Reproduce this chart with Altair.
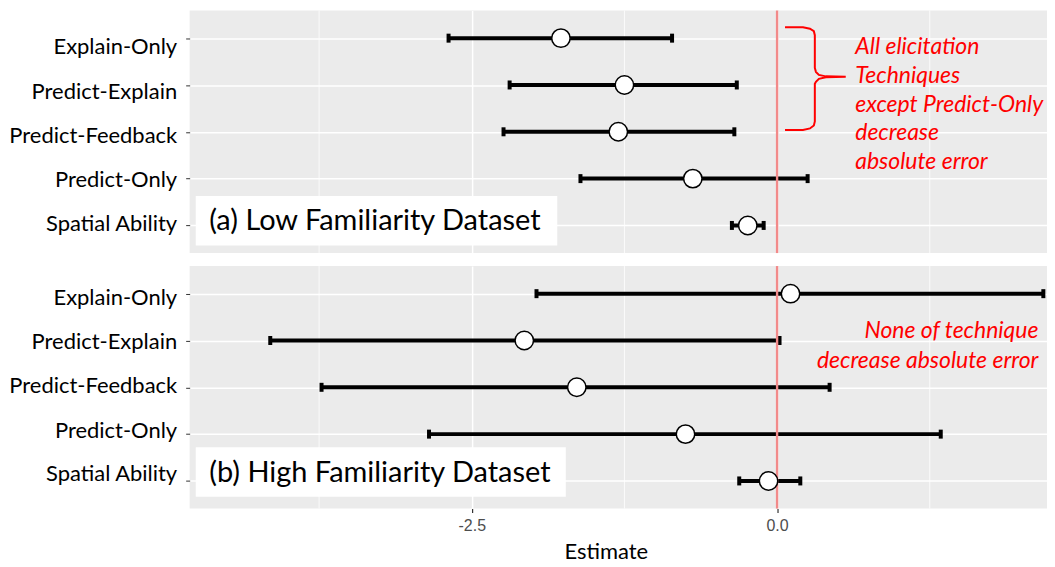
import altair as alt
import pandas as pd

terms = ["Explain-Only", "Predict-Explain", "Predict-Feedback", "Predict-Only", "Spatial Ability"]
rows = [0, 1, 2, 3, 4]

low_est = [-1.77, -1.25, -1.30, -0.69, -0.24]
low_lo = [-2.69, -2.19, -2.24, -1.61, -0.37]
low_hi = [-0.86, -0.33, -0.35, 0.25, -0.11]

high_est = [0.11, -2.07, -1.64, -0.75, -0.07]
high_lo = [-1.97, -4.15, -3.73, -2.85, -0.31]
high_hi = [2.18, 0.02, 0.43, 1.34, 0.19]

x_major = [-2.5, 0.0]
x_minor = [-3.75, -1.25, 1.25]
x_domain = [-4.81, 2.21]
y_domain = [-0.59, 4.59]

label_a = "(a) Low Familiarity Dataset"
label_b = "(b) High Familiarity Dataset"
note_a = "All elicitation\nTechniques\nexcept Predict-Only\ndecrease\nabsolute error"
note_b = "None of technique\ndecrease absolute error"

# brace annotation outline (estimate units, row units)
brace_x = [0.065, 0.212, 0.269, 0.301, 0.309, 0.309, 0.318, 0.342, 0.399, 0.562,
           0.399, 0.342, 0.318, 0.309, 0.309, 0.301, 0.269, 0.212, 0.065]
brace_y = [-0.233, -0.233, -0.201, -0.148, -0.064, 0.636, 0.720, 0.784, 0.816, 0.826,
           0.837, 0.869, 0.932, 0.975, 1.78, 1.864, 1.928, 1.96, 1.96]

# vertical nudges of the row labels (pixels)
shift_a = [8, 7, 4, 1, -2]
shift_b = [4, 1, -2, -4, -7]

FONT = "Lato"
PANEL_W = 859
PANEL_H = 243

label_expr = "[" + ",".join(f"'{t}'" for t in terms) + "][datum.value]"


def offsets(shift):
    return {"condition": [{"test": f"datum.value === {r}", "value": s}
                          for r, s in zip(rows[:-1], shift[:-1])],
            "value": shift[-1]}


def panel(est, lo, hi, label, box, text_pos, note, note_pos, note_align, note_lh,
          bottom, shift, with_brace):
    df = pd.DataFrame({"term": terms, "row": rows, "est": est, "lo": lo, "hi": hi})
    if bottom:
        x_axis = alt.Axis(values=x_major,
                          labelExpr="replace(format(datum.value, '.1f'), '\u2212', '-')",
                          grid=True, gridColor="white",
                          gridWidth=1.5, domain=False, ticks=True, tickSize=4,
                          tickColor="#333333", tickWidth=1.2, labelColor="#4D4D4D",
                          labelFont="Liberation Sans", labelFontSize=16, labelPadding=5,
                          title="Estimate", titleFont=FONT, titleFontSize=22,
                          titleFontWeight="normal", titleColor="black", titlePadding=8,
                          titleX=417)
    else:
        x_axis = alt.Axis(values=x_major, grid=True, gridColor="white", gridWidth=1.5,
                          domain=False, ticks=False, labels=False, title=None)
    y_axis = alt.Axis(values=rows, labelExpr=label_expr, grid=True, gridColor="white",
                      gridWidth=1.5, domain=False, ticks=True, tickSize=4,
                      tickColor="#333333", labelFont=FONT, labelFontSize=22,
                      labelColor="black", labelPadding=9, labelOffset=offsets(shift),
                      title=None, minExtent=180, maxExtent=180)
    xs = alt.Scale(domain=x_domain, nice=False, zero=False)
    ys = alt.Scale(domain=y_domain, nice=False, zero=False, reverse=True)

    def X(f):
        return alt.X(f, scale=xs, axis=x_axis, title="Estimate" if bottom else None)

    def Y(f):
        return alt.Y(f, scale=ys, axis=y_axis, title=None)

    base = alt.Chart(df)
    bars = base.mark_rule(color="black", strokeWidth=4).encode(
        x=X("lo:Q"), x2="hi:Q", y=Y("row:Q"))
    cap_lo = base.mark_tick(color="black", orient="vertical", size=9, thickness=4,
                            opacity=1).encode(x=X("lo:Q"), y=Y("row:Q"))
    cap_hi = base.mark_tick(color="black", orient="vertical", size=9, thickness=4,
                            opacity=1).encode(x=X("hi:Q"), y=Y("row:Q"))
    pts = base.mark_point(shape="circle", filled=True, fill="white", stroke="black",
                          strokeWidth=1.5, size=340, opacity=1).encode(
        x=X("est:Q"), y=Y("row:Q"))
    minor = alt.Chart(pd.DataFrame({"v": x_minor})).mark_rule(
        color="white", strokeWidth=0.8).encode(x=X("v:Q"))
    vline = alt.Chart(pd.DataFrame({"v": [0.0]})).mark_rule(
        color="#F28A8A", strokeWidth=2.4).encode(x=X("v:Q"))
    rect = alt.Chart(pd.DataFrame({"x1": [box[0]], "x2": [box[1]], "y1": [box[2]],
                                   "y2": [box[3]]})).mark_rect(color="white").encode(
        x=X("x1:Q"), x2="x2:Q", y=Y("y1:Q"), y2="y2:Q")
    ltxt = alt.Chart(pd.DataFrame({"x": [text_pos[0]], "y": [text_pos[1]], "t": [label]})).mark_text(
        font=FONT, fontSize=29, color="black", align="left", baseline="middle").encode(
        x=X("x:Q"), y=Y("y:Q"), text="t:N")
    ntxt = alt.Chart(pd.DataFrame({"x": [note_pos[0]], "y": [note_pos[1]], "t": [note]})).mark_text(
        font=FONT, fontSize=23, fontStyle="italic", color="#FF0000", align=note_align,
        baseline="middle", lineBreak="\n", lineHeight=note_lh).encode(
        x=X("x:Q"), y=Y("y:Q"), text="t:N")
    layers = [minor, bars, cap_lo, cap_hi, vline, pts, rect, ltxt, ntxt]
    if with_brace:
        bdf = pd.DataFrame({"bx": brace_x, "by": brace_y, "i": list(range(len(brace_x)))})
        brace = alt.Chart(bdf).mark_line(color="#FF0000", strokeWidth=2).encode(
            x=X("bx:Q"), y=Y("by:Q"), order="i:Q")
        layers.append(brace)
    return alt.layer(*layers).properties(width=PANEL_W, height=PANEL_H)


top = panel(low_est, low_lo, low_hi, label_a, [-4.76, -1.80, 3.37, 4.43], [-4.65, 3.90],
            note_a, [0.64, 0.19], "left", 28.8, False, shift_a, True)
bot = panel(high_est, high_lo, high_hi, label_b, [-4.76, -1.73, 3.28, 4.34], [-4.65, 3.83],
            note_b, [2.14, 0.79], "right", 30, True, shift_b, False)

chart = alt.vconcat(top, bot, spacing=9).properties(
    padding={"left": 0, "top": 0, "right": 0, "bottom": 0}
).configure_view(fill="#EBEBEB", stroke=None).configure_axis(domain=False)

chart.save("out.html", embed_options={"renderer": "svg", "actions": False})
